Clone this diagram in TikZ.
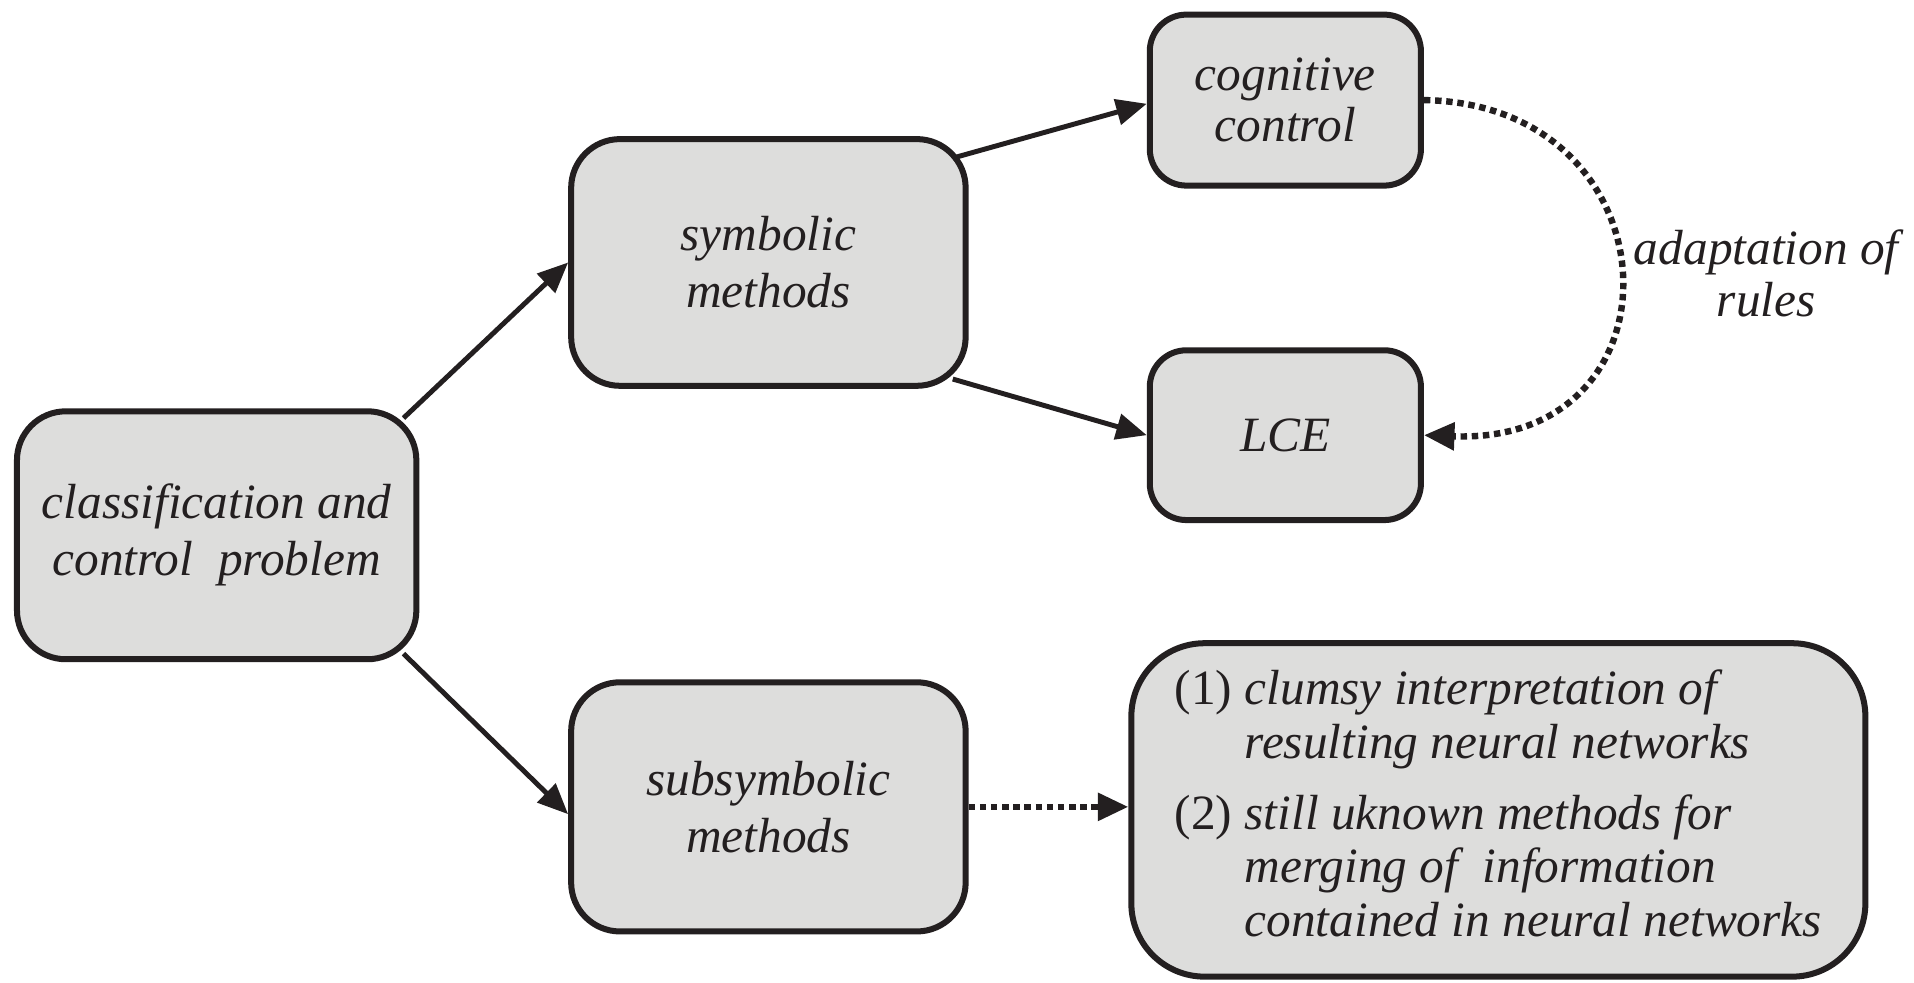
\documentclass[tikz,border=0pt]{standalone}
\usepackage{fontspec}
\setmainfont{LiberationSerif-Regular.ttf}[ItalicFont=LiberationSerif-Italic.ttf]
\usetikzlibrary{arrows.meta}
\definecolor{boxfill}{RGB}{221,221,220}
\definecolor{ink}{RGB}{35,31,32}
\begin{document}
\begin{tikzpicture}[x=0.01cm,y=-0.01cm,
  box/.style={draw=ink, line width=1.4pt, fill=boxfill, rounded corners=0.4cm, align=center, text=ink,
    font=\fontsize{11.5}{13.3}\selectfont\itshape, inner sep=0pt},
  arr/.style={draw=ink, line width=1.15pt, -{Triangle[length=0.25cm,width=0.21cm]}},
  dotarr/.style={draw=ink, line width=1.5pt, dash pattern=on 1.5pt off 1.1pt, -{Triangle[length=0.25cm,width=0.22cm]}},
  lbl/.style={text=ink, align=center, font=\fontsize{11.5}{12}\selectfont\itshape, inner sep=0pt}]
\useasboundingbox (0,0) rectangle (1568,805);

\node[box, minimum width=3.27cm, minimum height=2.03cm] (A) at (177.5,438.5) {classification and\\control\ \ problem};
\node[box, minimum width=3.23cm, minimum height=2.02cm] (B) at (629.5,215) {symbolic\\methods};
\node[box, minimum width=3.23cm, minimum height=2.04cm] (C) at (629.5,661) {subsymbolic\\methods};
\node[box, minimum width=2.22cm, minimum height=1.40cm, rounded corners=0.3cm,
  font=\fontsize{11.5}{12}\selectfont\itshape] (D) at (1053,82) {cognitive\\control};
\node[box, minimum width=2.22cm, minimum height=1.39cm, rounded corners=0.3cm] (E) at (1053,356.5) {LCE};
\node[box, minimum width=6.01cm, minimum height=2.73cm, rounded corners=0.6cm,
  font=\fontsize{11.5}{12.5}\selectfont] (F) at (1227.5,663.5)
  {\begin{tabular}{@{}l@{\ }l@{}}
   (1) & \textit{clumsy interpretation of}\\
       & \textit{resulting neural networks}\\[4pt]
   (2) & \textit{still uknown methods for}\\
       & \textit{merging of\ \ information}\\
       & \textit{contained in neural networks}
   \end{tabular}};
\node[lbl] (L) at (1447,224) {adaptation of\\rules};

\draw[arr] ([shift={(-13,8)}]A.north east) -- (B.west);
\draw[arr] ([shift={(-13,-7)}]A.south east) -- ([yshift=-0.06cm]C.west);
\draw[arr] ([shift={(-13,18)}]B.north east) -- ([yshift=-0.03cm]D.west);
\draw[arr] ([shift={(-13,-8)}]B.south east) -- (E.west);
\draw[dotarr] (C.east) -- (C.east -| F.west);
\draw[dotarr] (D.east) .. controls (1375,85) and (1385,365) .. (E.east);
\end{tikzpicture}
\end{document}
